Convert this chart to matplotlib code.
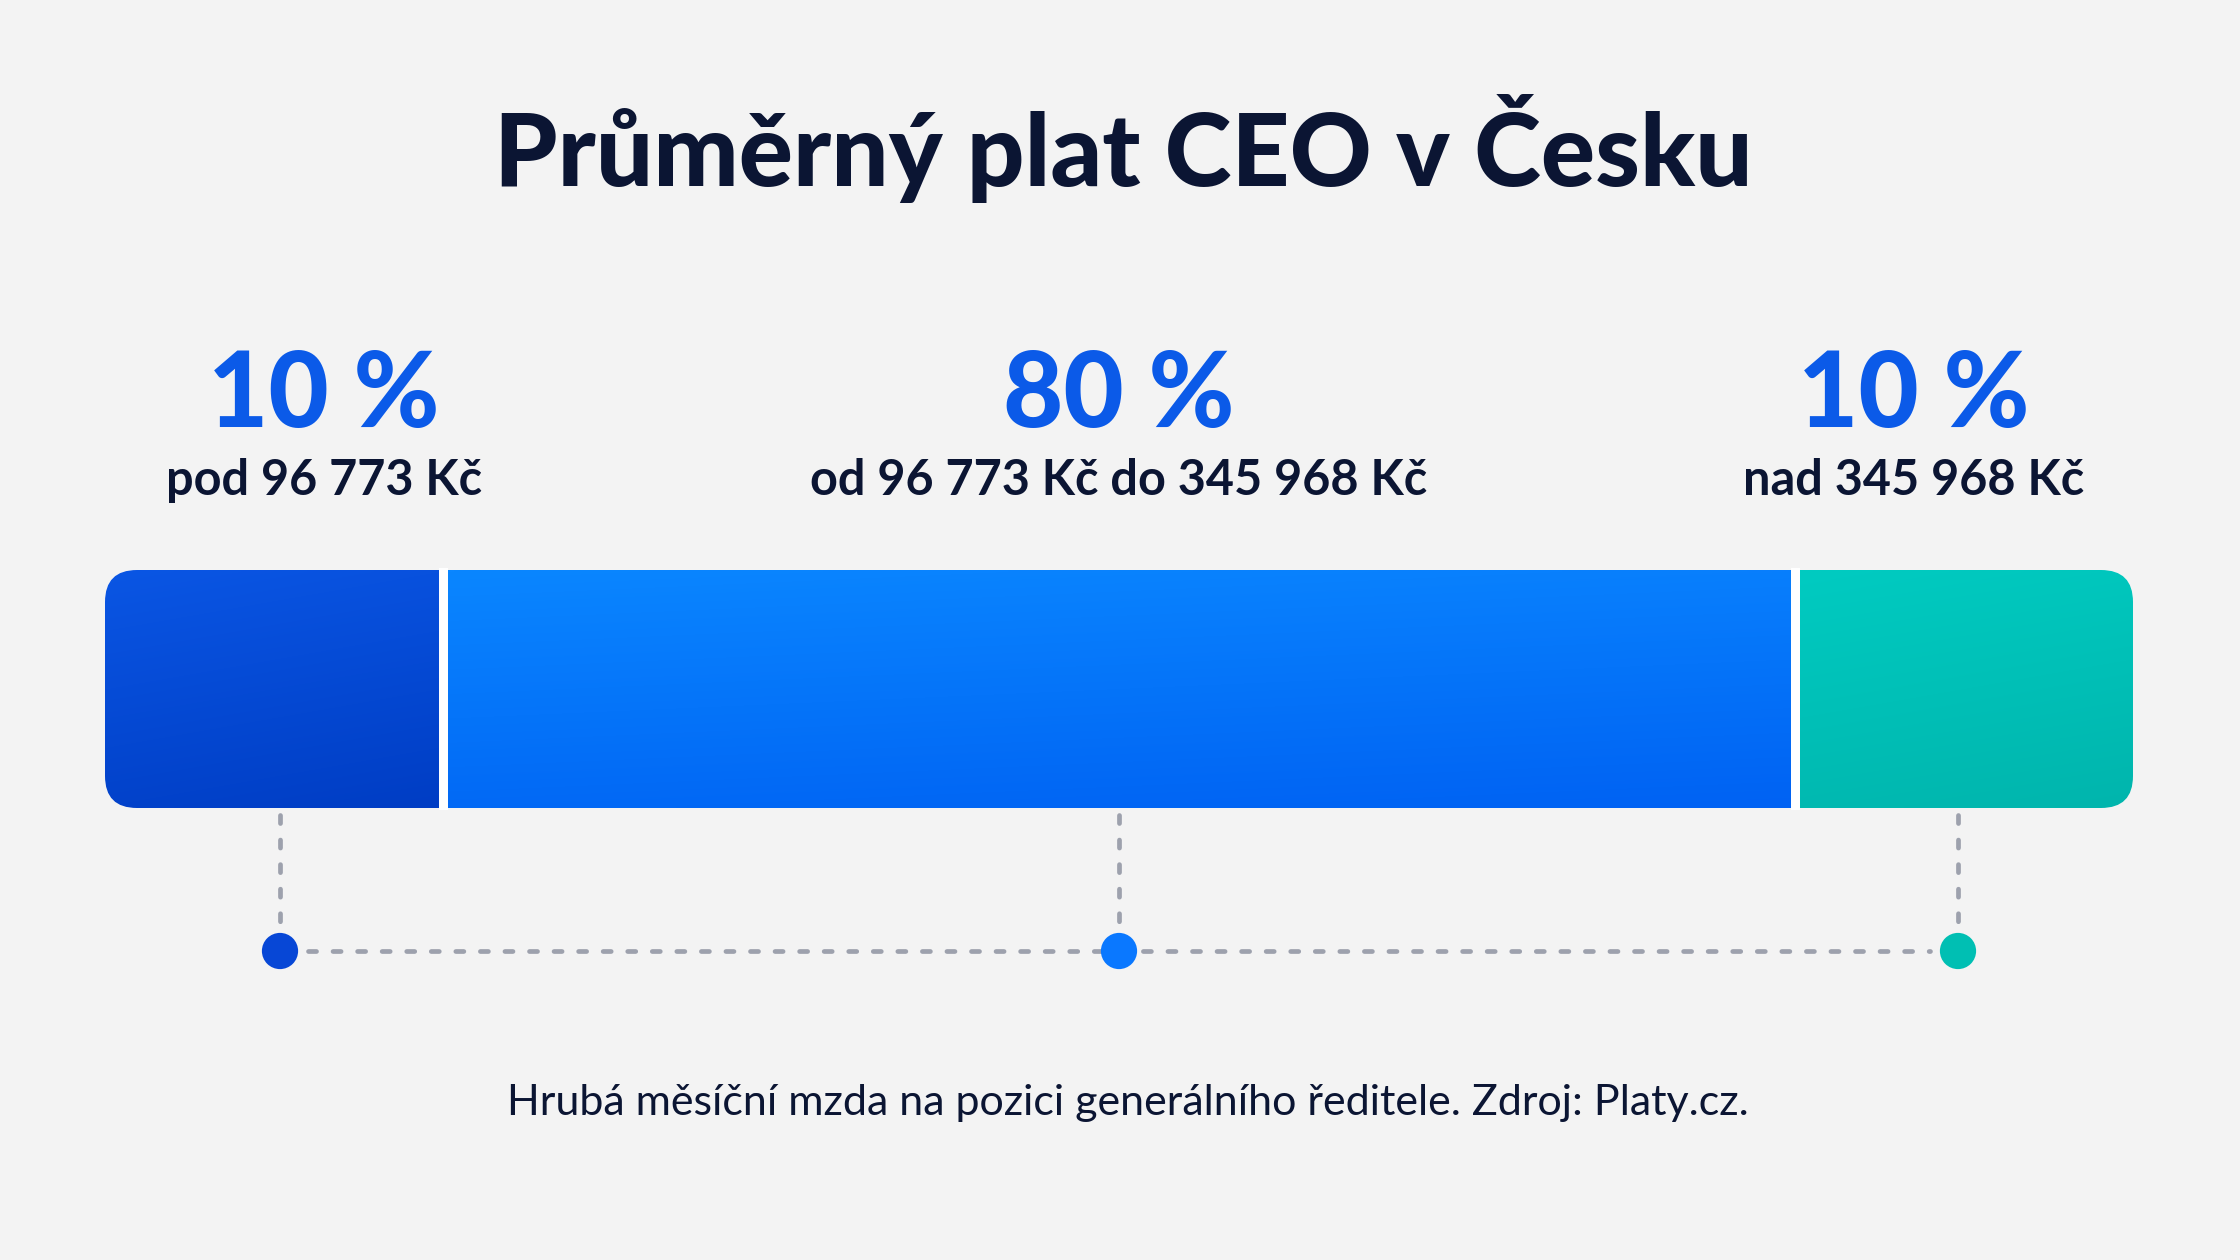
import numpy as np
import matplotlib
matplotlib.use("Agg")
import matplotlib.pyplot as plt
from matplotlib.patches import FancyBboxPatch, Rectangle
from matplotlib.colors import to_rgb

# ---------------- data ----------------
title = "Průměrný plat CEO v Česku"
shares = [10, 80, 10]                      # percent of CEOs
share_labels = ["10 %", "80 %", "10 %"]
range_labels = ["pod 96 773 Kč", "od 96 773 Kč do 345 968 Kč", "nad 345 968 Kč"]
display_weights = [1, 4, 1]                # relative segment widths as drawn
footer = "Hrubá měsíční mzda na pozici generálního ředitele. Zdroj: Platy.cz."

# ---------------- style ----------------
BG = "#f3f3f3"
NAVY = "#0b1533"
PCT = "#0b5ae8"
GREY = "#9da1ad"
seg_top = ["#0a56e4", "#0a86ff", "#00cbc1"]
seg_bot = ["#003dc4", "#0062f3", "#00b5ad"]
dot_cols = ["#0747d6", "#0a78ff", "#00bfb3"]

W, H = 2240, 1260
fig = plt.figure(figsize=(W / 100, H / 100), dpi=100, facecolor=BG)
ax = fig.add_axes([0, 0, 1, 1])
ax.set_facecolor(BG)
ax.axis("off")

bar_l, bar_r = 105, 2133
bar_t, bar_b = 570, 808
gap = 9
radius = 32
dot_y = 951
dot_inset = 6
label_inset = 50

tot = sum(display_weights)
edges = np.concatenate([[0], np.cumsum(display_weights)]) / tot
xs = bar_l + edges * (bar_r - bar_l)

clip = FancyBboxPatch((bar_l, bar_t), bar_r - bar_l, bar_b - bar_t,
                      boxstyle=f"round,pad=0,rounding_size={radius}",
                      facecolor="none", edgecolor="none")
ax.add_patch(clip)

for i in range(len(shares)):
    x0, x1 = xs[i], xs[i + 1]
    ny, nx = 60, 60
    ty = np.linspace(0, 1, ny)[:, None]
    tx = np.linspace(0, 1, nx)[None, :]
    t = np.clip(0.8 * ty + 0.2 * tx, 0, 1)[..., None]
    c0 = np.array(to_rgb(seg_top[i]))
    c1 = np.array(to_rgb(seg_bot[i]))
    img = c0 * (1 - t) + c1 * t
    im = ax.imshow(img, extent=(x0, x1, bar_b, bar_t), origin="upper",
                   interpolation="bilinear", aspect="auto", zorder=2)
    im.set_clip_path(clip)

# separators
for x in xs[1:-1]:
    ax.add_patch(Rectangle((x - gap / 2, bar_t - 2), gap, bar_b - bar_t + 4,
                           facecolor="white", edgecolor="none", zorder=3))

centers = (xs[:-1] + xs[1:]) / 2
mid = (bar_l + bar_r) / 2
dots_x = centers + np.sign(mid - centers) * dot_inset
dash = dict(color=GREY, lw=3.4, dashes=(1.7, 3.5), dash_capstyle="round",
            solid_capstyle="round", zorder=1)
for cx in dots_x:
    ax.plot([cx, cx], [bar_b + 7, dot_y - 22], **dash)
ax.plot([dots_x[0] + 28, dots_x[-1] - 28], [dot_y, dot_y], **dash)
ax.scatter(dots_x, [dot_y] * len(dots_x), s=680, c=dot_cols, zorder=4,
           linewidths=0)

# texts
ax.text(W / 2 + 3, 186, title, ha="center", va="baseline", fontsize=73,
        fontweight="black", color=NAVY, family="Lato")
for i in range(len(shares)):
    lx = centers[i] + np.sign(mid - centers[i]) * label_inset
    ax.text(lx, 427, share_labels[i], ha="center", va="baseline", fontsize=75,
            fontweight="black", color=PCT, family="Lato")
    ax.text(lx, 495, range_labels[i], ha="center", va="baseline", fontsize=35,
            fontweight="bold", color=NAVY, family="Lato")
ax.text(W / 2 + 8, 1115, footer, ha="center", va="baseline", fontsize=31,
        color=NAVY, family="Lato")

ax.set_xlim(0, W)
ax.set_ylim(H, 0)
fig.savefig("out.png", dpi=100, facecolor=BG)
